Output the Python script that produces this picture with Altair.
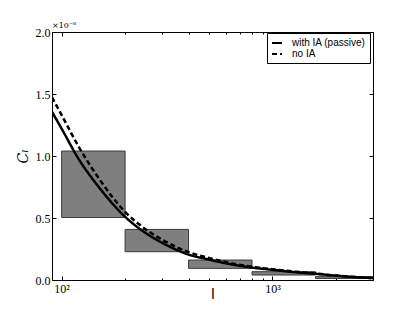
import altair as alt
import pandas as pd

# multipole values and C_l curves (units of 1e-8)
ell = [90, 100, 120, 150, 200, 250, 300, 400, 500, 600, 800, 1000, 1300, 1600, 2000, 2500, 3000]
with_ia = [1.355, 1.22, 0.98, 0.75, 0.51, 0.38, 0.30, 0.205, 0.165, 0.135, 0.10, 0.082, 0.062, 0.05, 0.035, 0.023, 0.015]
no_ia = [1.473, 1.33, 1.08, 0.82, 0.55, 0.41, 0.325, 0.225, 0.178, 0.145, 0.107, 0.087, 0.066, 0.052, 0.036, 0.024, 0.016]
series_names = ["with IA (passive)", "no IA"]

# error boxes
bin_lo = [100, 200, 400, 800, 1600]
bin_hi = [200, 400, 800, 1600, 3200]
box_lo = [0.504, 0.228, 0.094, 0.040, 0.012]
box_hi = [1.040, 0.408, 0.161, 0.067, 0.027]

x_major = [100, 1000]
x_minor = [200, 300, 400, 500, 600, 700, 800, 900, 2000, 3000]
y_ticks = [0.0, 0.5, 1.0, 1.5, 2.0]
offset_label = ["×10⁻⁸"]

curves = pd.DataFrame({
    "ell": ell * 2,
    "cl": with_ia + no_ia,
    "series": [series_names[0]] * len(ell) + [series_names[1]] * len(ell),
})
boxes_df = pd.DataFrame({"lo": bin_lo, "hi": bin_hi, "ylo": box_lo, "yhi": box_hi})

xs = alt.Scale(type="log", domain=[90, 3000], nice=False)
ys = alt.Scale(domain=[0, 2.0], nice=False)
serif = "Liberation Serif"

boxes = alt.Chart(boxes_df).mark_rect(
    fill="#7f7f7f", stroke="#3a3a3a", strokeWidth=1, clip=True
).encode(
    x=alt.X("lo:Q", scale=xs, axis=alt.Axis(
        orient="bottom", values=x_major,
        labelExpr="datum.value == 100 ? '10²' : '10³'",
        offset=-4, tickSize=4, labelPadding=3, labelFont=serif, labelFontSize=12,
        title="l", titleFont="Liberation Sans", titleFontSize=15, titleFontWeight="normal",
        titleColor="black", titleY=22, titleBaseline="alphabetic")),
    x2="hi:Q",
    y=alt.Y("ylo:Q", scale=ys, axis=alt.Axis(
        orient="left", values=y_ticks, format=".1f",
        offset=-4, tickSize=4, labelPadding=2, labelFont=serif, labelFontSize=12,
        title="Cₗ", titleFont="DejaVu Serif", titleFontStyle="italic", titleFontSize=14,
        titleFontWeight="normal", titleX=-33, titleY=124, titleAngle=270,
        titleAlign="center", titleBaseline="middle")),
    y2="yhi:Q",
)

lines = alt.Chart(curves).mark_line(
    color="black", strokeWidth=2.5, interpolate="monotone", clip=True
).encode(
    x=alt.X("ell:Q", scale=xs, axis=alt.Axis(
        orient="bottom", values=x_minor, labels=False, offset=-2, tickSize=2, title=None)),
    y=alt.Y("cl:Q", scale=ys, axis=None),
    strokeDash=alt.StrokeDash("series:N", scale=alt.Scale(
        domain=series_names, range=[[1, 0], [5, 3]]),
        legend=alt.Legend(
            title=None, orient="none", legendX=215, legendY=1,
            strokeColor="black", fillColor="white", padding=4, cornerRadius=0,
            symbolType="stroke", symbolSize=100, symbolStrokeWidth=2,
            symbolStrokeColor="black", labelFont="Liberation Sans", labelFontSize=10,
            labelOffset=9, rowPadding=0, labelColor="black")),
    detail="series:N",
)

top_major = alt.Chart(curves).mark_point(opacity=0).encode(
    x=alt.X("ell:Q", scale=xs, axis=alt.Axis(
        orient="top", values=x_major, labels=False, offset=-4, tickSize=4, title=None)),
    y=alt.Y("cl:Q", scale=ys, axis=alt.Axis(
        orient="right", values=y_ticks, labels=False, offset=-4, tickSize=4, title=None)),
)

top_minor = alt.Chart(curves).mark_point(opacity=0).encode(
    x=alt.X("ell:Q", scale=xs, axis=alt.Axis(
        orient="top", values=x_minor, labels=False, offset=-2, tickSize=2, title=None)),
    y=alt.Y("cl:Q", scale=ys, axis=None),
)

offset_text = alt.Chart(pd.DataFrame({"t": offset_label})).mark_text(
    align="left", baseline="alphabetic", font="DejaVu Serif", fontSize=8, color="black"
).encode(
    x=alt.value(0), y=alt.value(-4), text="t:N"
)

chart = alt.layer(boxes, lines, top_major, top_minor, offset_text).resolve_axis(
    x="independent", y="independent"
).properties(
    width=321, height=248,
    padding={"left": 44, "top": 24, "right": 30, "bottom": 22},
    autosize=alt.AutoSizeParams(type="none"),
).configure_view(
    stroke="black", strokeWidth=1
).configure_axis(
    grid=False, domain=False, tickColor="black", tickWidth=1, labelColor="black", titleColor="black"
)

chart.save("out.html", embed_options={"renderer": "svg", "actions": False})
